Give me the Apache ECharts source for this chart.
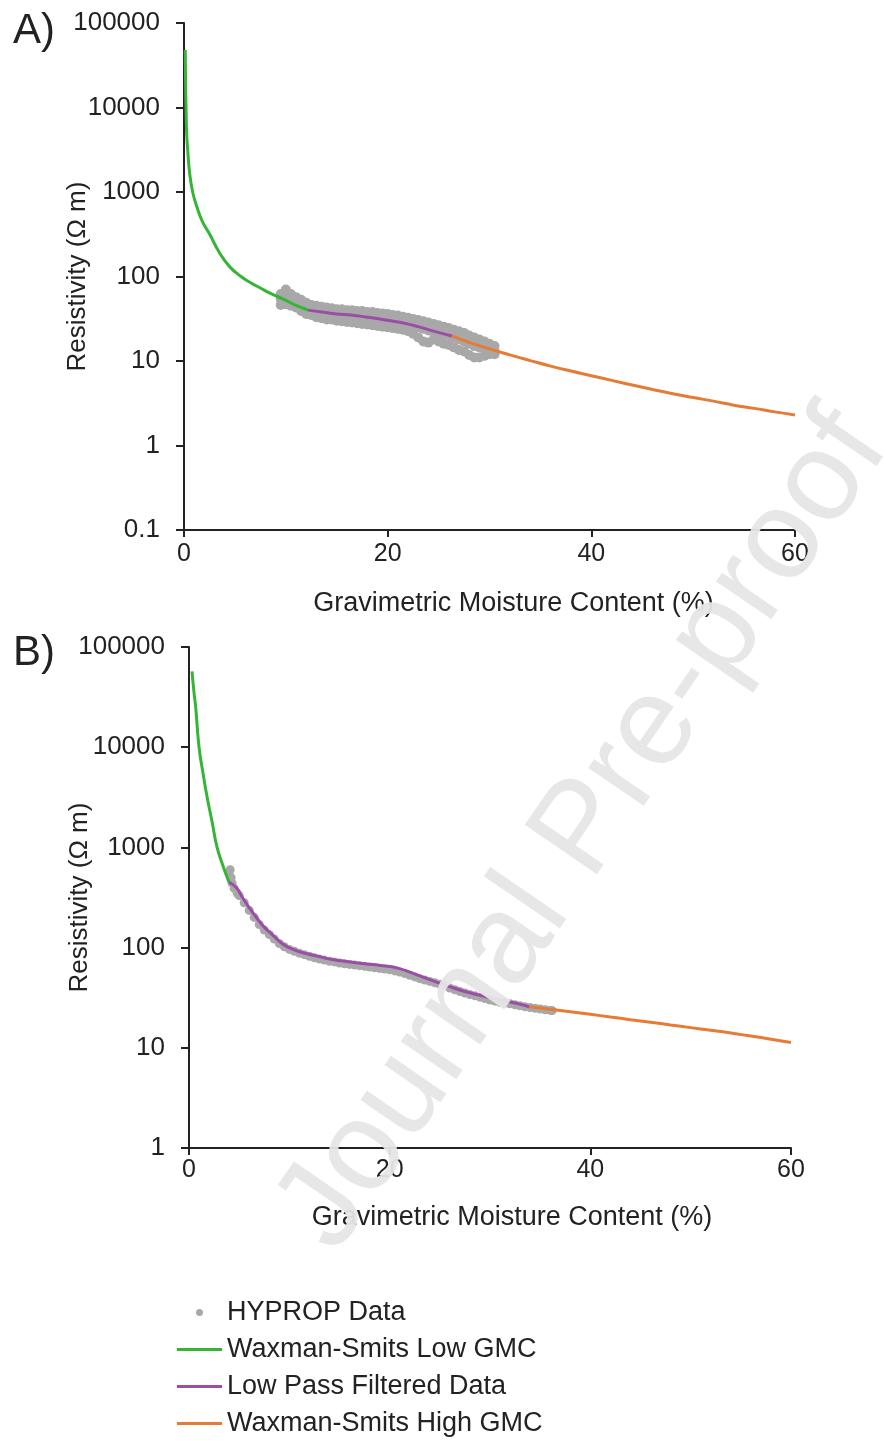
<!DOCTYPE html>
<html><head><meta charset="utf-8">
<script src="https://cdn.jsdelivr.net/npm/echarts@6/dist/echarts.min.js"></script>
<style>html,body{margin:0;padding:0;background:#fff}#c{width:885px;height:1441px}</style>
</head><body><div id="c"></div><script>
// ---- data ----
const seriesNames = ['HYPROP Data', 'Waxman-Smits Low GMC', 'Low Pass Filtered Data', 'Waxman-Smits High GMC'];

// Panel A
const greenA = [[0.12,48000],[0.14,30000],[0.17,15000],[0.2,10000],[0.26,5000],[0.36,3200],[0.55,1700],[0.85,1000],[1.3,650],[1.8,450],[2.5,320],[3.5,190],[4.5,130],[5.6,100],[6.5,85],[7.5,73],[8.5,63],[9.9,53],[11.0,45.5],[12.2,40]];
const purpleA = [[12.2,40],[13.5,38],[15,36],[16.4,35],[18,33],[19.5,31],[21.3,28.5],[23,25.5],[24.6,22.4],[26.3,19.8]];
const orangeA = [[26.3,19.8],[28,16.6],[30,13.9],[32,11.8],[34,10.1],[36,8.7],[38,7.6],[40,6.7],[42,5.9],[44,5.2],[46,4.6],[48,4.1],[50,3.7],[52,3.35],[54,3.0],[56,2.75],[58,2.5],[60,2.3]];
const hypA_x   = [9.5,10,10.5,11,11.5,12,12.5,13,13.5,14,14.5,15,15.5,16,16.5,17,17.5,18,18.5,19,19.5,20,20.5,21,21.5,22,22.5,23,23.5,24,24.5,25,25.5,26,26.5,27,27.5,28,28.5,29,29.5,30,30.5];
const hypA_lo  = [46,47,45,43,39,36,35,33,32,31,31,30,29.5,29,28.5,28,27.5,27,26.5,26,25.5,25,24.5,24,23.5,22.5,21,19,17,16.5,18,17,16,15.5,14.5,13.5,13,11.8,11,11,11.5,12,12];
const hypA_mid = [54,60,53,49,46,42,40,39,38,37,36,35.5,35,34.5,34,33.5,33,32.5,32,31,30.5,30,29.5,29,28,27.5,26.5,25,24,23,22,21.5,20.5,20,19,18,17,16,15,14.5,14,13.5,13];
const hypA_hi  = [62,70,62,57,53,49,46,45,44,43,42,41,41,40,40,39,39,38,38,37,36.5,36,35,34.5,33.5,32.5,31.5,30.5,29.5,28.5,27.5,26.5,25.5,24.5,23.5,22.5,21.5,20,19,18,17,16,15];

// Panel B
const greenB = [[0.3,57000],[0.5,35000],[0.67,25000],[1.0,10000],[1.4,5500],[1.8,3200],[2.3,1800],[2.8,1000],[3.4,650],[4.0,447]];
const purpleB = [[4.0,447],[4.7,398],[5.3,320],[6.0,251],[6.8,195],[7.5,160],[8.3,135],[9.3,109],[10.5,95],[11.5,88],[12.6,83],[14.3,76],[16.0,72],[17.5,69],[19.3,66],[20.9,62],[22.6,54],[24.2,47],[25.9,41],[27.5,36.5],[29.2,33],[30.9,30.2],[32.6,27.8],[33.9,25.7]];
const orangeB = [[33.9,25.7],[36,24.2],[38,22.9],[40,21.6],[42,20.3],[44,19.1],[46,18.0],[48,16.9],[50,15.9],[52,14.95],[54,14.05],[56,13.1],[58,12.2],[60,11.3]];
const hypB_x = [4.0,4.1,4.2,4.3,4.5,4.8,5.0,5.5,6.0,6.5,7.0,7.5,8.0,8.5,9.0,9.5,10,10.5,11,11.5,12,12.5,13,13.5,14,14.5,15,15.5,16,16.5,17,17.5,18,18.5,19,19.5,20,20.5,21,21.5,22,22.5,23,23.5,24,24.5,25,25.5,26,26.5,27,27.5,28,28.5,29,29.5,30,30.5,31,31.5,32,32.5,33,33.5,34,34.5,35,35.5,36,36.2];
const hypB_y = [560,600,500,440,390,350,330,280,235,200,170,150,135,122,110,102,96,92,88,85,82,79,77,75,73,72,70,69,68,67,66,65,64,63,62,61,60,58.5,57,55,53,51,49,47.5,46,44.5,43,41.5,39.5,38,36.5,35.2,34,33,32,31,30,29.2,28.5,28,27.5,26.9,26.3,25.7,25.2,24.8,24.4,24,23.6,23.5];

// ---- build ----
const hypA = [];
hypA_x.forEach((x, i) => { hypA.push([x, hypA_lo[i]], [x, hypA_mid[i]], [x, hypA_hi[i]]); });
const hypB = hypB_x.map((x, i) => [x, hypB_y[i]]);

const FONT = 'Liberation Sans, Arial, sans-serif';
const INK = '#222';
const C_GRAY = '#a8a8a8', C_GREEN = '#35b435', C_PURPLE = '#9b4ea8', C_ORANGE = '#e57b35';
// thin bar (3px) inside a 45x7 legend icon box
const LINE_ICON = 'path://M0,0L0.01,0L0,0.01Z M0,2L45,2L45,5L0,5Z M0,7L0.01,7L0,6.99Z';

function yFmt(v) { return v < 1 ? Number(v).toFixed(1) : String(Math.round(v)); }

function xAxisCfg(gridIndex, gap, labelMargin, padLeft) {
  return {
    type: 'value', gridIndex, min: 0, max: 60, interval: 20,
    name: 'Gravimetric Moisture Content (%)', nameLocation: 'middle', nameGap: gap, nameMoveOverlap: false,
    nameTextStyle: { fontSize: 27, color: INK, fontFamily: FONT, padding: [0, 0, 0, padLeft] },
    axisLine: { show: true, onZero: false, lineStyle: { color: INK, width: 2 } },
    axisTick: { show: true, inside: false, length: 7, lineStyle: { color: INK, width: 2 } },
    axisLabel: { fontSize: 25, color: INK, fontFamily: FONT, margin: labelMargin, formatter: v => String(v) },
    splitLine: { show: false }
  };
}
function yAxisCfg(gridIndex, min, gap) {
  return {
    type: 'log', logBase: 10, gridIndex, min, max: 100000,
    name: 'Resistivity (Ω m)', nameLocation: 'middle', nameGap: gap, nameMoveOverlap: false,
    nameTextStyle: { fontSize: 26, color: INK, fontFamily: FONT },
    axisLine: { show: true, onZero: false, lineStyle: { color: INK, width: 2 } },
    axisTick: { show: true, inside: false, length: 8, lineStyle: { color: INK, width: 2 } },
    axisLabel: { fontSize: 26, color: INK, fontFamily: FONT, margin: 24, formatter: yFmt },
    minorTick: { show: false },
    splitLine: { show: false }
  };
}
function lineSeries(name, data, color, xi) {
  return { type: 'line', name, data, xAxisIndex: xi, yAxisIndex: xi, showSymbol: false, symbol: 'none',
    smooth: 0.5, lineStyle: { color, width: 3 }, itemStyle: { color }, silent: true, z: 3 };
}
function scatterSeries(name, data, xi, size) {
  return { type: 'scatter', name, data, xAxisIndex: xi, yAxisIndex: xi, symbol: 'circle', symbolSize: size,
    itemStyle: { color: C_GRAY, opacity: 1 }, silent: true, z: 2 };
}

const chart = echarts.init(document.getElementById('c'), null, { renderer: 'canvas' });
chart.setOption({
  backgroundColor: '#fff',
  animation: false,
  title: [
    { text: 'A)', left: 8, top: 5, textStyle: { fontSize: 42, fontWeight: 'normal', color: INK, fontFamily: FONT } },
    { text: 'B)', left: 8, top: 627, textStyle: { fontSize: 42, fontWeight: 'normal', color: INK, fontFamily: FONT } }
  ],
  grid: [
    { left: 184, right: 90, top: 23, height: 507, containLabel: false, outerBoundsMode: 'none' },
    { left: 189, right: 94, top: 647, height: 501, containLabel: false, outerBoundsMode: 'none' }
  ],
  xAxis: [xAxisCfg(0, 60, 12, 48), xAxisCfg(1, 56, 10, 44)],
  yAxis: [yAxisCfg(0, 0.1, 93), yAxisCfg(1, 1, 96)],
  legend: {
    orient: 'vertical', left: 177, top: 1299, padding: 0, itemWidth: 45, itemHeight: 7, itemGap: 10,
    height: 140,
    data: [
      { name: seriesNames[0], icon: 'circle' },
      { name: seriesNames[1], icon: LINE_ICON },
      { name: seriesNames[2], icon: LINE_ICON },
      { name: seriesNames[3], icon: LINE_ICON }
    ],
    textStyle: { fontSize: 27, lineHeight: 27, color: INK, fontFamily: FONT },
    selectedMode: false
  },
  series: [
    scatterSeries(seriesNames[0], hypA, 0, 10),
    lineSeries(seriesNames[1], greenA, C_GREEN, 0),
    lineSeries(seriesNames[2], purpleA, C_PURPLE, 0),
    lineSeries(seriesNames[3], orangeA, C_ORANGE, 0),
    scatterSeries(seriesNames[0], hypB, 1, 9),
    lineSeries(seriesNames[1], greenB, C_GREEN, 1),
    lineSeries(seriesNames[2], purpleB, C_PURPLE, 1),
    lineSeries(seriesNames[3], orangeB, C_ORANGE, 1)
  ],
  graphic: [{
    type: 'text', x: 584, y: 831, rotation: 0.97, z: 100, silent: true,
    style: { text: 'Journal Pre-proof', fontSize: 127, fontFamily: FONT, fill: '#e6e6e6', opacity: 0.95,
      align: 'center', verticalAlign: 'middle' }
  }]
});
</script></body></html>
